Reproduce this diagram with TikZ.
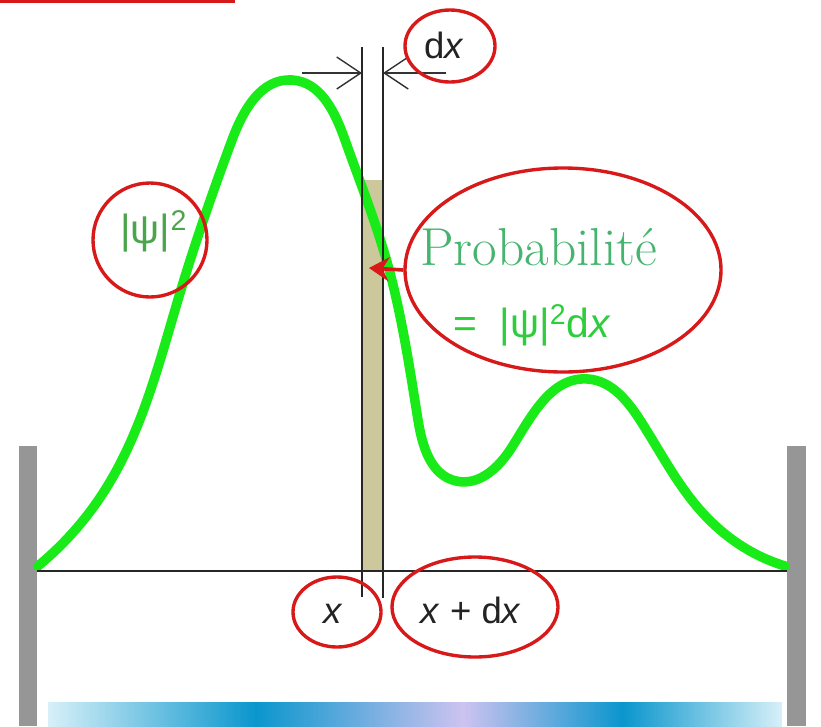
\documentclass[tikz,border=0pt]{standalone}
\usepackage{fontspec}
\setsansfont{Liberation Sans}
\usetikzlibrary{shapes.geometric, arrows.meta, positioning, hobby}
\definecolor{curvegreen}{RGB}{25,235,25}
\definecolor{probgreen}{RGB}{70,180,110}
\definecolor{formgreen}{RGB}{45,205,60}
\definecolor{psigreen}{RGB}{75,165,75}
\definecolor{ringred}{RGB}{215,25,25}
\definecolor{wallgray}{RGB}{150,150,150}
\definecolor{stripfill}{RGB}{205,200,155}
\definecolor{labelgray}{RGB}{35,35,35}
\definecolor{barlight}{RGB}{215,240,248}
\definecolor{barblue}{RGB}{10,150,205}
\definecolor{barlav}{RGB}{205,195,240}

\begin{document}
\begin{tikzpicture}[
    x=0.25mm, y=-0.25mm,
    wall/.style={fill=wallgray, draw=none},
    ring/.style={ellipse, draw=ringred, line width=2.4pt, inner sep=0pt},
    sflabel/.style={font=\sffamily\fontsize{26}{30}\selectfont, text=labelgray, inner sep=0pt},
    psicurve/.style={draw=curvegreen, line width=6.8pt, line cap=round},
    edge/.style={draw=black!85, line width=1.6pt},
    dimarrow/.style={draw=black!80, line width=1pt, -{Straight Barb[length=6mm, width=8mm]}},
    redarrow/.style={draw=ringred, line width=2.6pt, -{Stealth[length=5mm, width=6mm]}}
]
\useasboundingbox (0,0) rectangle (821,726);

% top red rule
\draw[ringred, line width=2.2pt] (0,1) -- (235,1);

% walls and bottom bar
\fill[wall] (19,446) rectangle (37,726);
\fill[wall] (787,446) rectangle (806,726);
\shade[left color=barlight, right color=barlav, middle color=barblue] (48,702) rectangle (463,726);
\shade[left color=barlav, right color=barlight, middle color=barblue] (463,702) rectangle (782,726);

% strip of width dx
\fill[stripfill] (362,180) rectangle (383,571);

% |psi|^2
\draw[psicurve, use Hobby shortcut] (38,566) .. (105,490) .. (180,293) .. (232,140)
    .. (292,80) .. (345,140) .. (387,262) .. (418,420) .. (456,481) .. (512,447)
    .. (588,379) .. (640,420) .. (700,510) .. (750,551) .. (785,566);

% axis and strip edges
\coordinate (axisL) at (37,571);
\coordinate (axisR) at (787,571);
\draw[edge] (axisL) -- (axisR);
\coordinate (leftTop) at (362,47);
\coordinate (leftBot) at (362,597);
\coordinate (rightTop) at (383,47);
\coordinate (rightBot) at (383,598);
\draw[edge] (leftTop) -- (leftBot);
\draw[edge] (rightTop) -- (rightBot);

% dx arrows
\coordinate (dxFromL) at (302,73);
\coordinate (dxFromR) at (446,73);
\draw[dimarrow] (dxFromL) -- (leftTop |- dxFromL);
\draw[dimarrow] (dxFromR) -- (rightTop |- dxFromR);

% labels
\node[ring, minimum width=22.5mm, minimum height=18mm] (dxring) at (450,46) {};
\node[sflabel, anchor=base] (dxlabel) at (444,58) {d\textit{x}};

\node[ring, minimum width=28.5mm, minimum height=28.5mm] (psiring) at (150,240) {};
\node[sflabel, font=\sffamily\fontsize{29}{32}\selectfont, text=psigreen, anchor=base west] (psilabel)
    at (120,243) {|ψ|\textsuperscript{2}};

\node[ring, minimum width=79mm, minimum height=51mm] (probring) at (563,270) {};
\node[font=\fontsize{38}{42}\selectfont, text=probgreen, inner sep=0pt, anchor=base west] (problabel)
    at (420,265) {Probabilité};
\node[sflabel, font=\sffamily\fontsize{29}{32}\selectfont, text=formgreen, anchor=base west] (formlabel)
    at (453,337) {=\ \ |ψ|\textsuperscript{2}d\textit{x}};

\coordinate (hit) at (369,268);
\draw[redarrow] (probring.west) -- (hit);

\node[ring, minimum width=22mm, minimum height=17.5mm] (xring) at (337,612) {};
\node[sflabel, anchor=base] (xlabel) at (333,623) {\textit{x}};

\node[ring, minimum width=41.5mm, minimum height=25mm] (xdxring) at (475,607) {};
\node[sflabel, anchor=base] (xdxlabel) at (471,623) {\textit{x} + d\textit{x}};

\end{tikzpicture}
\end{document}
